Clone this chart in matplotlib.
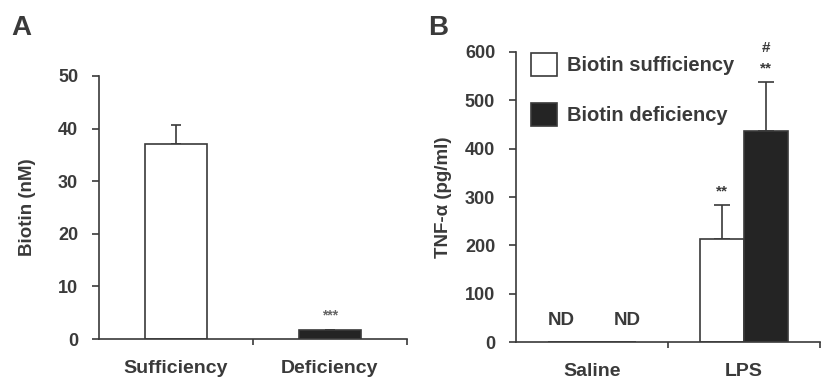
import matplotlib
matplotlib.use("Agg")
import matplotlib.pyplot as plt
from matplotlib.patches import Patch

# Panel A: serum biotin
groups_a = ["Sufficiency", "Deficiency"]
biotin = [37.1, 1.7]
biotin_err = [3.6, 0.0]
marks_a = ["", "***"]

# Panel B: TNF-alpha
groups_b = ["Saline", "LPS"]
tnf_suff = [0, 213]
tnf_suff_err = [0, 70]
tnf_def = [0, 437]
tnf_def_err = [0, 101]
nd_labels = ["ND", "ND"]
legend_labels = ["Biotin sufficiency", "Biotin deficiency"]

ink = "#3a3a3a"
dark = "#242424"
plt.rcParams["font.family"] = ["Liberation Sans", "DejaVu Sans"]
plt.rcParams["font.weight"] = "bold"


def style_axes(ax, ncat):
    for s in ["top", "right"]:
        ax.spines[s].set_visible(False)
    for s in ["left", "bottom"]:
        ax.spines[s].set_color(ink)
        ax.spines[s].set_linewidth(1.2)
    ax.set_xlim(-0.5, ncat - 0.5)
    ax.set_xticks(range(ncat))
    ax.set_xticks([i + 0.5 for i in range(ncat)], minor=True)
    ax.tick_params(axis="x", which="major", length=0, pad=15,
                   labelsize=14, colors=ink)
    ax.tick_params(axis="x", which="minor", length=4, width=1.2,
                   color=ink, direction="out")
    ax.tick_params(axis="y", length=5, width=1.2, color=ink,
                   labelsize=13, labelcolor=ink, pad=10)
    for lab in ax.get_xticklabels() + ax.get_yticklabels():
        lab.set_fontweight("bold")


fig = plt.figure(figsize=(8.22, 3.79), dpi=100)

# ---- A ----
axa = fig.add_axes([0.1204, 0.1055, 0.3747, 0.694])
xa = list(range(len(groups_a)))
axa.bar(xa, biotin, width=0.4, color=["white", dark],
        edgecolor=ink, linewidth=1.2, zorder=2)
axa.errorbar(xa, biotin, yerr=[[0] * len(biotin_err), biotin_err],
             fmt="none", ecolor=ink, elinewidth=1.2, capsize=3.6,
             capthick=1.2, zorder=1)
axa.set_ylim(0, 50)
axa.set_yticks(range(0, 51, 10))
style_axes(axa, len(groups_a))
axa.set_xticklabels(groups_a)
axa.set_ylabel("Biotin (nM)", fontsize=13.5, fontweight="bold", color=ink)
axa.yaxis.set_label_coords(-0.205, 0.5)
for x, v, m in zip(xa, biotin, marks_a):
    if m:
        axa.text(x, v + 2.8, m, ha="center", va="center", fontsize=10,
                 color="#666666", fontweight="bold")
fig.text(0.014, 0.925, "A", fontsize=20, fontweight="bold", color=ink,
         va="center")

# ---- B ----
axb = fig.add_axes([0.6277, 0.0976, 0.3699, 0.7652])
xb = list(range(len(groups_b)))
w = 0.29
xs = [x - w / 2 for x in xb]
xd = [x + w / 2 for x in xb]
axb.bar(xs, tnf_suff, width=w, color="white", edgecolor=ink,
        linewidth=1.2, zorder=2)
axb.bar(xd, tnf_def, width=w, color=dark, edgecolor=ink,
        linewidth=1.2, zorder=2)
axb.errorbar(xs[1:], tnf_suff[1:], yerr=[[0], tnf_suff_err[1:]],
             fmt="none", ecolor=ink, elinewidth=1.2, capsize=5.8,
             capthick=1.2, zorder=1)
axb.errorbar(xd[1:], tnf_def[1:], yerr=[[0], tnf_def_err[1:]],
             fmt="none", ecolor=ink, elinewidth=1.2, capsize=5.8,
             capthick=1.2, zorder=1)
axb.set_ylim(0, 600)
axb.set_yticks(range(0, 601, 100))
style_axes(axb, len(groups_b))
axb.set_xticklabels(groups_b)
axb.set_ylabel("TNF-\u03b1 (pg/ml)", fontsize=13.5, fontweight="bold",
               color=ink)
axb.yaxis.set_label_coords(-0.21, 0.5)

axb.text(xb[0] - 0.2, 45, nd_labels[0], ha="center", va="center",
         fontsize=13.5, fontweight="bold", color=ink)
axb.text(xb[0] + 0.23, 45, nd_labels[1], ha="center", va="center",
         fontsize=13.5, fontweight="bold", color=ink)
axb.text(xs[1], tnf_suff[1] + tnf_suff_err[1] + 28, "**", ha="center",
         va="center", fontsize=11, fontweight="bold", color=ink)
axb.text(xd[1], tnf_def[1] + tnf_def_err[1] + 28, "**", ha="center",
         va="center", fontsize=11, fontweight="bold", color=ink)
axb.text(xd[1], tnf_def[1] + tnf_def_err[1] + 70, "#", ha="center",
         va="center", fontsize=11, fontweight="bold", color=ink)

handles = [Patch(facecolor="white", edgecolor=ink, linewidth=1.2),
           Patch(facecolor=dark, edgecolor=ink, linewidth=1.2)]
leg = axb.legend(handles, legend_labels, loc="upper left",
                 bbox_to_anchor=(0.05, 0.995), frameon=False,
                 borderpad=0, borderaxespad=0,
                 handlelength=1.3, handleheight=1.35, handletextpad=0.5,
                 labelspacing=1.35, prop={"size": 14.5, "weight": "bold"})
for t in leg.get_texts():
    t.set_color(ink)
fig.text(0.521, 0.925, "B", fontsize=20, fontweight="bold", color=ink,
         va="center")

fig.savefig("out.png", dpi=100)
